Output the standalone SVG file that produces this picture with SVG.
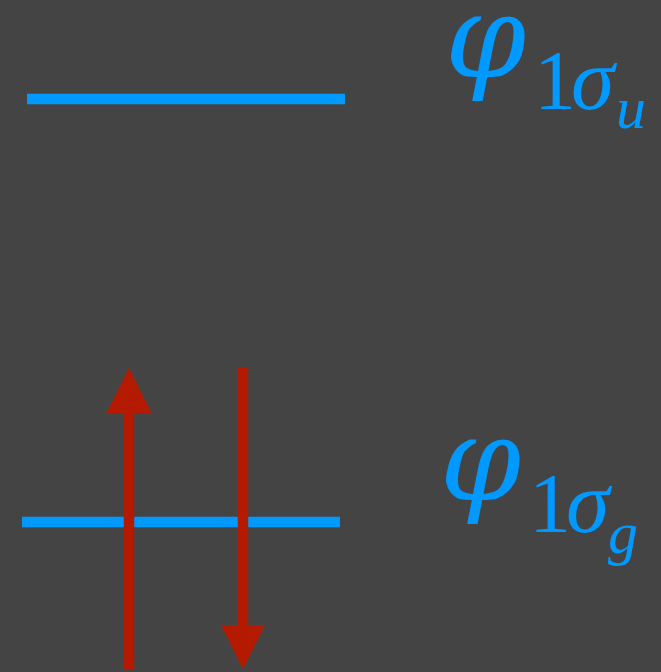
<svg xmlns="http://www.w3.org/2000/svg" width="661" height="672" viewBox="0 0 661 672">
<defs>
<style>
.lvl{stroke:#0099ff;stroke-width:10.5;fill:none}
.spin{stroke:#b31a00;stroke-width:10.5;fill:none}
.head{fill:#b31a00}
.t{fill:#0099ff;font-family:"Liberation Serif","Times New Roman",serif}
.ph{fill:#0099ff;font-family:"DejaVu Serif",serif;font-style:italic}
.it{font-style:italic}
</style>
</defs>
<rect width="661" height="672" fill="#444444"/>
<g id="level-1su">
<line class="lvl" x1="27" y1="99" x2="345" y2="99"/>
<text class="ph" x="445" y="77" font-size="116">φ</text>
<text class="t" x="534" y="109" font-size="84">1</text>
<text class="t it" x="571" y="109" font-size="88">σ</text>
<text class="t it" x="616" y="128" font-size="60">u</text>
</g>
<g id="level-1sg">
<line class="lvl" x1="22" y1="522" x2="340" y2="522"/>
<text class="ph" x="440" y="500" font-size="116">φ</text>
<text class="t" x="529" y="532" font-size="84">1</text>
<text class="t it" x="566" y="532" font-size="88">σ</text>
<text class="t it" x="608" y="553" font-size="60">g</text>
</g>
<g id="connectors">
<line class="spin" x1="129" y1="669" x2="129" y2="410"/>
<polygon class="head" points="129,368 151.5,413 106.5,413"/>
<line class="spin" x1="243" y1="368" x2="243" y2="628"/>
<polygon class="head" points="243,669 265,625 221,625"/>
</g>
</svg>
